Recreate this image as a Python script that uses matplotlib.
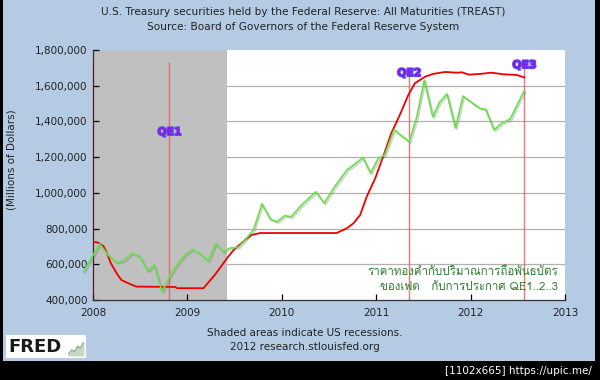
import matplotlib as mpl
mpl.use('Agg')
import matplotlib.pyplot as plt
import matplotlib.patheffects as pe
from matplotlib.patches import Rectangle
from matplotlib import font_manager
from matplotlib.ticker import FuncFormatter

# TREAST (millions of dollars)
treast_t = [2008.00, 2008.05, 2008.11, 2008.14, 2008.19, 2008.25, 2008.30, 2008.39, 2008.46,
            2008.87, 2008.89, 2009.17, 2009.29, 2009.43, 2009.49, 2009.61, 2009.68, 2009.77,
            2010.58, 2010.69, 2010.76, 2010.83, 2010.90, 2010.99, 2011.08, 2011.16, 2011.25,
            2011.34, 2011.41, 2011.52, 2011.60, 2011.73, 2011.85, 2011.91, 2011.98, 2012.10,
            2012.22, 2012.35, 2012.49, 2012.57]
treast_v = [725000, 722000, 702000, 672000, 605000, 550000, 512000, 490000, 475000,
            473000, 466000, 466000, 540000, 641000, 680000, 736000, 764000, 775000,
            775000, 802000, 830000, 876000, 979000, 1082000, 1212000, 1334000, 1436000,
            1548000, 1614000, 1651000, 1666000, 1677000, 1673000, 1675000, 1662000, 1666000,
            1673000, 1664000, 1660000, 1646000]

# gold price overlay (drawn on the same scale)
gold_t = [2007.90, 2007.99, 2008.07, 2008.16, 2008.25, 2008.33, 2008.41, 2008.49, 2008.58,
          2008.65, 2008.73, 2008.82, 2008.90, 2008.99, 2009.06, 2009.15, 2009.22, 2009.30,
          2009.38, 2009.45, 2009.54, 2009.61, 2009.70, 2009.79, 2009.88, 2009.95, 2010.03,
          2010.10, 2010.21, 2010.28, 2010.36, 2010.45, 2010.55, 2010.69, 2010.76, 2010.86,
          2010.94, 2011.02, 2011.09, 2011.19, 2011.25, 2011.35, 2011.43, 2011.51, 2011.60,
          2011.67, 2011.75, 2011.84, 2011.92, 2012.01, 2012.10, 2012.16, 2012.25, 2012.32,
          2012.42, 2012.57]
gold_v = [558000, 641000, 714000, 652000, 610000, 621000, 661000, 646000, 562000,
          596000, 446000, 540000, 605000, 660000, 683000, 652000, 618000, 717000,
          669000, 691000, 695000, 736000, 792000, 938000, 852000, 838000, 872000,
          866000, 932000, 966000, 1006000, 942000, 1027000, 1128000, 1156000, 1198000,
          1110000, 1192000, 1212000, 1355000, 1327000, 1286000, 1425000, 1632000, 1426000,
          1506000, 1554000, 1363000, 1542000, 1506000, 1473000, 1468000, 1352000, 1387000,
          1414000, 1573000]

recession = (2008.0, 2009.42)
qe_names = ['QE1', 'QE2', 'QE3']
qe_dates = [2008.81, 2011.35, 2012.57]
qe_tops = [1733000, 1677000, 1700000]
qe_label_y = [1340000, 1670000, 1715000]
year_ticks = [2008, 2009, 2010, 2011, 2012, 2013]
value_ticks = [400000, 600000, 800000, 1000000, 1200000, 1400000, 1600000, 1800000]

title = 'U.S. Treasury securities held by the Federal Reserve: All Maturities (TREAST)'
source = 'Source: Board of Governors of the Federal Reserve System'
note1 = 'ราคาทองคำกับปริมาณการถือพันธบัตร'
note2 = 'ของเฟด   กับการประกาศ QE1..2..3'
logo_line = [1, 3, 2, 5, 4, 7]


def thai_family():
    from fontTools.ttLib import TTFont
    for f in font_manager.fontManager.ttflist:
        try:
            cmap = TTFont(f.fname, fontNumber=0, lazy=True).getBestCmap()
        except Exception:
            continue
        if cmap and 0x0E23 in cmap and 0x0E04 in cmap:
            return f.name
    return 'DejaVu Sans'


BLUE = '#b4cbe3'
W, H = 600, 380

fig = plt.figure(figsize=(6, 3.8), dpi=100)
fig.patch.set_facecolor('black')
fig.add_artist(Rectangle((3 / W, 1 - 361 / H), 592 / W, 361 / H, transform=fig.transFigure,
                         facecolor=BLUE, edgecolor='none', zorder=-5))

fig.text(303 / W, 1 - 12 / H, title, ha='center', va='center', fontsize=7.6, color='#222222')
fig.text(303 / W, 1 - 27 / H, source, ha='center', va='center', fontsize=7.6, color='#222222')

ax = fig.add_axes([93 / W, 80 / H, 472 / W, 250 / H])
ax.set_facecolor('white')
ax.set_xlim(2008, 2013)
ax.set_ylim(400000, 1800000)

for v in value_ticks[1:-1]:
    ax.axhline(v, color='#b0b0b0', lw=0.9, zorder=0.5)
ax.axvspan(recession[0], recession[1], color='#c0c0c0', lw=0, zorder=1)

ax.vlines(2008.0, 400000, qe_tops[0], color='#7a0a0a', lw=1.2, zorder=3)
for d, top in zip(qe_dates, qe_tops):
    ax.vlines(d, 400000, top, color='#ee5555', lw=1.0, alpha=0.8, zorder=2)

ax.plot(treast_t, treast_v, color='#ee0000', lw=1.3, zorder=4)
ax.plot(gold_t, gold_v, color='#66e044', lw=1.2, zorder=5, clip_on=False,
        path_effects=[pe.SimpleLineShadow(offset=(1, -1), shadow_color='#666666', alpha=0.3),
                      pe.Normal()])

for name, d, y in zip(qe_names, qe_dates, qe_label_y):
    ax.text(d, y, name, ha='center', va='center', fontsize=7.8, fontweight='bold',
            color='#8a1fd0', zorder=6,
            path_effects=[pe.withStroke(linewidth=1.3, foreground='#5a50ff')])

tf = thai_family()
ax.text(0.985, 0.115, note1, transform=ax.transAxes, ha='right', va='center',
        fontsize=8.3, color='#2e7d2e', family=[tf, 'DejaVu Sans'], zorder=6)
ax.text(0.985, 0.05, note2, transform=ax.transAxes, ha='right', va='center',
        fontsize=8.3, color='#2e7d2e', family=[tf, 'DejaVu Sans'], zorder=6)

ax.set_xticks(year_ticks)
ax.set_yticks(value_ticks)
ax.yaxis.set_major_formatter(FuncFormatter(lambda v, p: '{:,.0f}'.format(v)))
ax.tick_params(direction='in', length=4, width=0.9, labelsize=7.5, labelcolor='#222222')
ax.tick_params(axis='x', pad=6)
ax.tick_params(axis='y', pad=4)
for s in ['top', 'right']:
    ax.spines[s].set_visible(False)
for s in ['left', 'bottom']:
    ax.spines[s].set_color('#333333')
    ax.spines[s].set_linewidth(0.9)
ax.set_ylabel('(Millions of Dollars)', fontsize=7.5, color='#222222')
ax.yaxis.set_label_coords(-0.163, 0.56)

fig.text(305 / W, 1 - 333 / H, 'Shaded areas indicate US recessions.', ha='center', va='center',
         fontsize=7.5, color='#222222')
fig.text(305 / W, 1 - 347 / H, '2012 research.stlouisfed.org', ha='center', va='center',
         fontsize=7.5, color='#222222')

# FRED logo
fig.add_artist(Rectangle((6 / W, 1 - 358 / H), 80 / W, 23 / H, transform=fig.transFigure,
                         facecolor='white', edgecolor='none', zorder=1))
fig.text(8 / W, 1 - 347 / H, 'FRED', ha='left', va='center', fontsize=13, fontweight='bold',
         color='#1a1a1a', zorder=3)
lg = fig.add_axes([68 / W, 1 - 356 / H, 16 / W, 14 / H])
lg.set_zorder(5)
lg.patch.set_visible(False)
lg.plot(logo_line, color='#8fae8f', lw=0.9)
lg.fill_between(range(len(logo_line)), logo_line, color='#c8d8c8')
lg.set_axis_off()

fig.text(592 / W, 1 - 371 / H, '[1102x665] https://upic.me/', ha='right', va='center',
         fontsize=7.5, color='white')

fig.savefig('out.png', dpi=100, facecolor=fig.get_facecolor())
